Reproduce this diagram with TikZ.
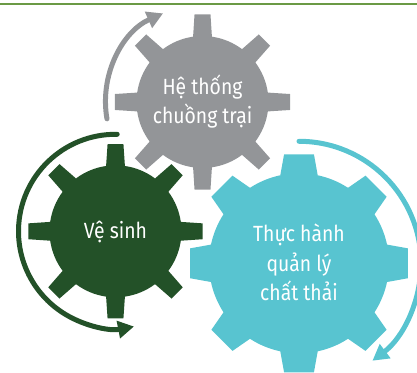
\documentclass[tikz,border=0pt]{standalone}
\usepackage{fontspec}
\setmainfont{Fira Sans}[FakeStretch=0.88]
\usetikzlibrary{arrows.meta,calc}

\definecolor{ruleGreen}{HTML}{6B9A45}
\definecolor{cogGray}{HTML}{939598}
\definecolor{cogGreen}{HTML}{235128}
\definecolor{cogTeal}{HTML}{58C4D0}

% gear outline: foot radius, tip radius, half angle of a tooth at its foot and at its tip
\newcommand{\cogpath}[4]{%
  (-#3:#1) \foreach \a in {0,45,...,315}{
    -- (\a-#3:#1) -- (\a-#4:#2) -- (\a+#4:#2) -- (\a+#3:#1)
    arc[start angle=\a+#3, end angle=\a+45-#3, radius=#1]}
  -- cycle}

\begin{document}
\begin{tikzpicture}[
    x=1pt, y=1pt,
    cogtext/.style={text=white, align=center, anchor=base, inner sep=0pt, font=\fontsize{22}{29.5}\selectfont},
    looparrow/.style={line width=5pt, line cap=round, -{Triangle[length=16pt, width=17pt]}}
]
\clip (0,0) rectangle (417,372);
\draw[ruleGreen, line width=2.7pt] (0,368) -- (417,368);

\coordinate (cg) at (202.5,270);
\coordinate (cv) at (115.5,140.7);
\coordinate (ct) at (299,108.7);

% the three gears
\fill[cogGray, shift={(cg)}] \cogpath{66}{88}{8.2}{5.2};
\fill[cogGreen, shift={(cv)}] \cogpath{66}{87.5}{8.2}{5.2};
\fill[cogTeal, shift={(ct)}] \cogpath{90}{110}{12}{7.8};

% base anchor sits on the last line
\node[cogtext] (hethong) at (202.5,248) {Hệ thống\\chuồng trại};
\node[cogtext] (vesinh) at (115.5,133.7) {Vệ sinh};
\node[cogtext] (thuchanh) at (299,71.3) {Thực hành\\quản lý\\chất thải};

% turning arrows
\draw[looparrow, cogGray] ($(cg)+(190:97)$) arc[start angle=190, end angle=114, radius=97];
\draw[looparrow, cogGreen] ($(cv)+(89:97)$) arc[start angle=89, end angle=281, radius=97];
\draw[looparrow, cogTeal] ($(ct)+(90:122)$) arc[start angle=90, end angle=-53, radius=122];
\end{tikzpicture}
\end{document}
